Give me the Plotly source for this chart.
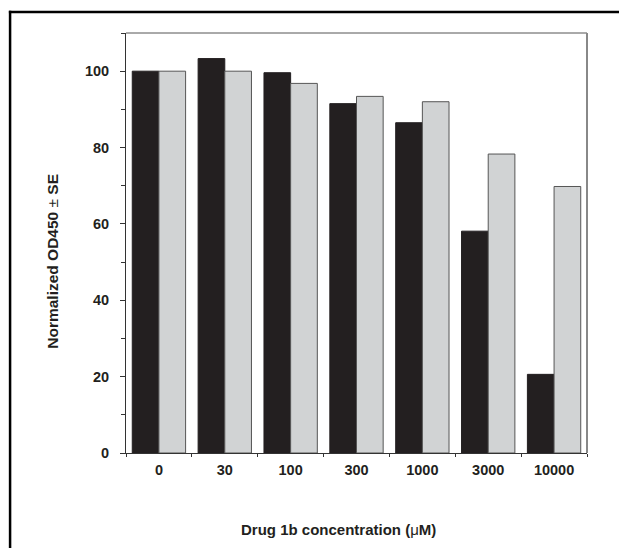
import plotly.graph_objects as go

categories = ["0", "30", "100", "300", "1000", "3000", "10000"]
series_black = [100, 103.3, 99.6, 91.5, 86.5, 58.1, 20.6]
series_gray = [100, 100, 96.8, 93.4, 92.0, 78.3, 69.8]
y_ticks = [0, 20, 40, 60, 80, 100]

# page body has an 8px margin; figure is placed at (8, 8) in the window
OFF = 8
W, H = 627 - OFF, 548 - OFF
ML = 126 - OFF
MT = 33.3 - OFF
MR = W - (587.3 - OFF)
MB = H - (453.3 - OFF)
pw = W - ML - MR
ph = H - MT - MB

def px_x(p):
    # p: pixel in window coords
    return (p - OFF - ML) / pw

def px_y(p):
    return 1 - (p - OFF - MT) / ph

font = "Liberation Sans, Arial, sans-serif"

fig = go.Figure()
fig.add_trace(go.Bar(x=categories, y=series_black, name="black",
                     marker=dict(color="#231f20", line=dict(color="#231f20", width=1))))
fig.add_trace(go.Bar(x=categories, y=series_gray, name="gray",
                     marker=dict(color="#d1d3d4", line=dict(color="#555555", width=1))))

fig.update_layout(
    width=W, height=H,
    margin=dict(l=ML, r=MR, t=MT, b=MB, pad=0),
    paper_bgcolor="white", plot_bgcolor="white",
    barmode="group", bargap=0.19, bargroupgap=0,
    showlegend=False,
    font=dict(family=font, color="#231f20"),
    xaxis=dict(type="category", showline=True, linecolor="#333333", linewidth=1,
               ticks="outside", tickson="boundaries", ticklen=3, tickcolor="#333333",
               ticklabelstandoff=4,
               tickfont=dict(size=14.5, family=font, weight="bold", color="#231f20"),
               showgrid=False, zeroline=False, fixedrange=True),
    yaxis=dict(range=[0, 110], showline=True, linecolor="#333333", linewidth=1,
               tickvals=y_ticks, ticks="outside", ticklen=5, tickcolor="#333333",
               minor=dict(dtick=10, tick0=0, ticks="outside", ticklen=4, tickcolor="#333333", showgrid=False),
               ticklabelstandoff=8,
               tickfont=dict(size=14.5, family=font, weight="bold", color="#231f20"),
               showgrid=False, zeroline=False),
    shapes=[
        # plot box top and right (gray)
        dict(type="line", xref="paper", yref="paper", x0=0, x1=1, y0=1, y1=1,
             line=dict(color="#555555", width=1)),
        dict(type="line", xref="paper", yref="paper", x0=1, x1=1, y0=0, y1=1,
             line=dict(color="#888888", width=2)),
        # outer frame (top and left)
        dict(type="line", xref="paper", yref="paper", x0=px_x(8.8), x1=px_x(640),
             y0=px_y(12.2), y1=px_y(12.2), line=dict(color="black", width=2.5)),
        dict(type="line", xref="paper", yref="paper", x0=px_x(10), x1=px_x(10),
             y0=px_y(11), y1=px_y(560), line=dict(color="black", width=2.5)),
    ],
    annotations=[
        dict(text="<b>Drug 1b concentration (</b>\u03bc<b>M)</b>", xref="paper", yref="paper",
             x=px_x(339), y=px_y(530), xanchor="center", yanchor="middle", showarrow=False,
             font=dict(size=15, family=font, color="#231f20")),
        dict(text="<b>Normalized OD450</b> \u00b1 <b>SE</b>", xref="paper", yref="paper",
             x=px_x(53), y=px_y(262), xanchor="center", yanchor="middle", showarrow=False,
             textangle=-90,
             font=dict(size=15.5, family=font, color="#231f20")),
    ],
)

fig.write_html("out.html")
